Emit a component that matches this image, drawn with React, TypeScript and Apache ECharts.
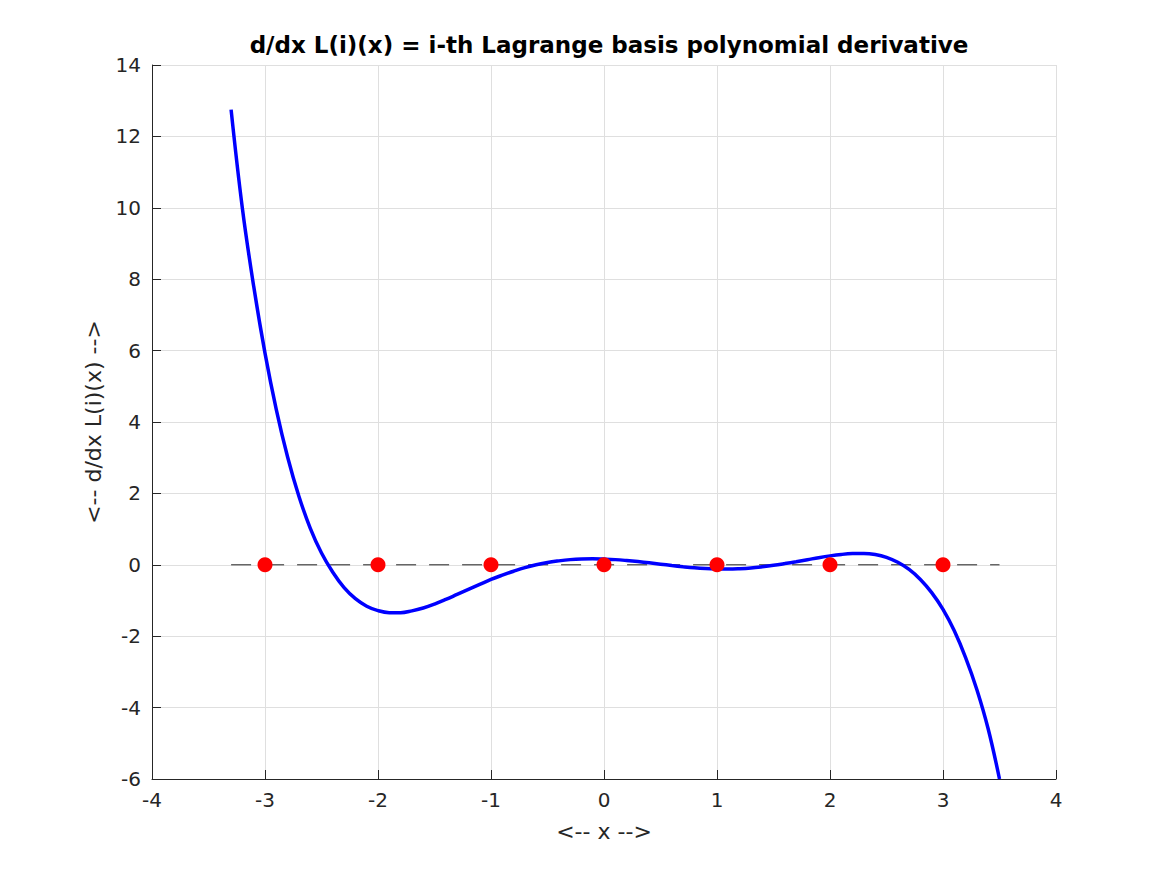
import React, { useEffect, useRef } from "react";
import * as echarts from "echarts";

const titleText = "d/dx L(i)(x) = i-th Lagrange basis polynomial derivative";
const xName = "<-- x -->";
const yName = "<-- d/dx L(i)(x) -->";

// curve samples (x from -3.3 to 3.5, step 0.1)
const curveX = [
  -3.3, -3.2, -3.1, -3.0, -2.9, -2.8, -2.7, -2.6, -2.5, -2.4,
  -2.3, -2.2, -2.1, -2.0, -1.9, -1.8, -1.7, -1.6, -1.5, -1.4,
  -1.3, -1.2, -1.1, -1.0, -0.9, -0.8, -0.7, -0.6, -0.5, -0.4,
  -0.3, -0.2, -0.1, 0.0, 0.1, 0.2, 0.3, 0.4, 0.5, 0.6,
  0.7, 0.8, 0.9, 1.0, 1.1, 1.2, 1.3, 1.4, 1.5, 1.6,
  1.7, 1.8, 1.9, 2.0, 2.1, 2.2, 2.3, 2.4, 2.5, 2.6,
  2.7, 2.8, 2.9, 3.0, 3.1, 3.2, 3.3, 3.4, 3.5,
];
const curveY = [
  12.75, 9.98, 7.8, 5.93, 4.35, 3.02, 1.92, 1.03, 0.33, -0.21,
  -0.64, -0.95, -1.16, -1.285, -1.34, -1.34, -1.29, -1.21, -1.1, -0.97,
  -0.83, -0.69, -0.55, -0.41, -0.29, -0.18, -0.08, 0.0, 0.065, 0.11,
  0.145, 0.165, 0.17, 0.16, 0.145, 0.12, 0.09, 0.055, 0.018, -0.02,
  -0.055, -0.085, -0.105, -0.115, -0.118, -0.108, -0.088, -0.055, -0.015, 0.034,
  0.087, 0.143, 0.2, 0.25, 0.29, 0.315, 0.32, 0.29, 0.21, 0.07,
  -0.13, -0.41, -0.78, -1.25, -1.85, -2.6, -3.5, -4.6, -6.0,
];

// interpolation nodes (red dots)
const nodeX = [-3, -2, -1, 0, 1, 2, 3];
const nodeY = [0, 0, 0, 0, 0, 0, 0];

// dashed zero line endpoints
const zeroLineX = [-3.3, 3.5];
const zeroLineY = [0, 0];

const xTicks = [-4, 4, 1];
const yTicks = [-6, 14, 2];

const FONT = "DejaVu Sans";
const TXT = "#262626";

export default function App() {
  const ref = useRef<HTMLDivElement>(null);
  useEffect(() => {
    if (!ref.current) return;
    const chart = echarts.init(ref.current, null, { renderer: "svg" });
    chart.setOption({
      animation: false,
      backgroundColor: "#ffffff",
      title: {
        text: titleText,
        left: 604,
        textAlign: "center",
        top: 28,
        textStyle: { fontFamily: FONT, fontSize: 23, fontWeight: "bold", color: "#000" },
      },
      grid: { left: 152, top: 65, right: 111, bottom: 96, containLabel: false },
      xAxis: {
        type: "value",
        min: xTicks[0],
        max: xTicks[1],
        interval: xTicks[2],
        name: xName,
        nameLocation: "middle",
        nameGap: 41,
        nameTextStyle: { fontFamily: FONT, fontSize: 22, color: TXT },
        axisLine: { show: true, onZero: false, lineStyle: { color: TXT, width: 1 } },
        axisTick: { show: true, inside: true, length: 9, lineStyle: { color: TXT } },
        axisLabel: { fontFamily: FONT, fontSize: 20, color: TXT, margin: 11 },
        splitLine: { show: true, lineStyle: { color: "#dfdfdf", width: 1 } },
      },
      yAxis: {
        type: "value",
        min: yTicks[0],
        max: yTicks[1],
        interval: yTicks[2],
        name: yName,
        nameLocation: "middle",
        nameGap: 44,
        nameTextStyle: { fontFamily: FONT, fontSize: 22, color: TXT },
        axisLine: { show: true, onZero: false, lineStyle: { color: TXT, width: 1 } },
        axisTick: { show: true, inside: true, length: 9, lineStyle: { color: TXT } },
        axisLabel: { fontFamily: FONT, fontSize: 20, color: TXT, margin: 11 },
        splitLine: { show: true, lineStyle: { color: "#dfdfdf", width: 1 } },
      },
      series: [
        {
          type: "line",
          data: zeroLineX.map((x, i) => [x, zeroLineY[i]]),
          showSymbol: false,
          lineStyle: { color: "#262626", width: 1, type: [20, 13] },
          z: 2,
          silent: true,
        },
        {
          type: "line",
          data: curveX.map((x, i) => [x, curveY[i]]),
          showSymbol: false,
          smooth: 0.4,
          lineStyle: { color: "#0000ff", width: 3.5 },
          z: 3,
          silent: true,
        },
        {
          type: "scatter",
          data: nodeX.map((x, i) => [x, nodeY[i]]),
          symbol: "circle",
          symbolSize: 15,
          itemStyle: { color: "#ff0000", opacity: 1 },
          z: 4,
          silent: true,
        },
      ],
    });
    return () => chart.dispose();
  }, []);
  return (
    <div
      ref={ref}
      style={{ position: "fixed", left: 0, top: 0, width: 1167, height: 875, background: "#fff" }}
    />
  );
}
